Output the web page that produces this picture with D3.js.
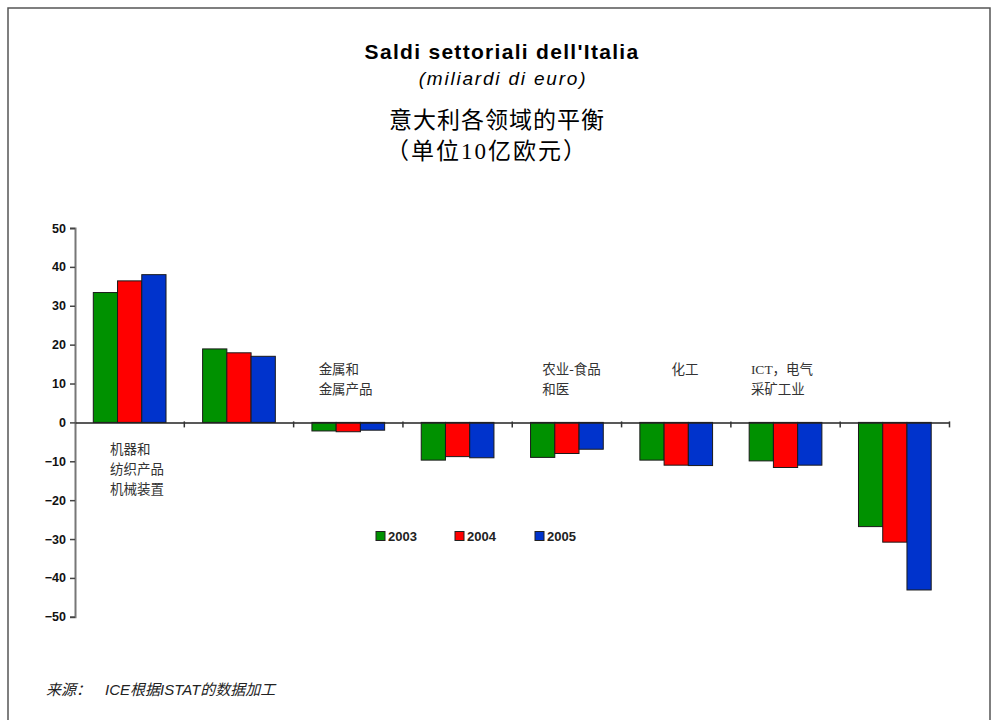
<!DOCTYPE html>
<html>
<head>
<meta charset="utf-8">
<script src="https://cdn.jsdelivr.net/npm/d3@7"></script>
<style>
  body { margin: 0; background: #fff; }
  svg { display: block; }
</style>
</head>
<body>
<div id="chart"></div>
<script>
// dati
const categories = ["cat1", "cat2", "cat3", "cat4", "cat5", "cat6", "cat7", "cat8"];
const categoryLabels = [
    ["机器和", "纺织产品", "机械装置"],
    [],
    ["金属和", "金属产品"],
    [],
    ["农业-食品", "和医"],
    ["化工"],
    ["ICT，电气", "采矿工业"],
    []
];
const years = ["2003", "2004", "2005"];
const values2003 = [33.4, 18.9, -2.2, -9.7, -9.0, -9.7, -9.9, -26.8];
const values2004 = [36.4, 17.9, -2.4, -8.8, -8.0, -11.0, -11.6, -30.8];
const values2005 = [38.0, 17.0, -2.0, -9.1, -6.9, -11.1, -11.0, -43.1];
const yTicks = [50, 40, 30, 20, 10, 0, -10, -20, -30, -40, -50];

const colors = ["#009100", "#ff0000", "#0033cc"];
const series = [values2003, values2004, values2005];

const width = 994, height = 720;
const svg = d3.select("#chart").append("svg")
    .attr("width", width)
    .attr("height", height);

// cornice
svg.append("path")
    .attr("d", "M8,720 V8 H990 V720")
    .attr("fill", "none")
    .attr("stroke", "#555")
    .attr("stroke-width", 1.5);

// titoli
svg.append("text")
    .attr("x", 502).attr("y", 59)
    .attr("text-anchor", "middle")
    .style("font-family", "Liberation Sans, Arial, sans-serif")
    .style("font-weight", "bold")
    .style("font-size", "21px")
    .style("letter-spacing", "1.3px")
    .text("Saldi settoriali dell'Italia");
svg.append("text")
    .attr("x", 503).attr("y", 85)
    .attr("text-anchor", "middle")
    .style("font-family", "Liberation Sans, Arial, sans-serif")
    .style("font-style", "italic")
    .style("font-size", "19px")
    .style("letter-spacing", "1.8px")
    .text("(miliardi di euro)");
svg.append("text")
    .attr("x", 497).attr("y", 128)
    .attr("text-anchor", "middle")
    .style("font-family", "Liberation Serif, Noto Sans CJK SC, serif")
    .style("font-size", "23px")
    .style("letter-spacing", "1px")
    .text("意大利各领域的平衡");
svg.append("text")
    .attr("x", 487).attr("y", 159)
    .attr("text-anchor", "middle")
    .style("font-family", "Liberation Serif, Noto Sans CJK SC, serif")
    .style("font-size", "23px")
    .style("letter-spacing", "2px")
    .text("（单位10亿欧元）");

// scale
const x = d3.scaleBand()
    .domain(categories)
    .range([75, 949.5])
    .paddingInner(0)
    .paddingOuter(0);

const xInner = d3.scaleBand()
    .domain(years)
    .range([18.3, x.bandwidth() - 18.3]);

const y = d3.scaleLinear()
    .domain([-50, 50])
    .range([616.8, 228]);

// barre
series.forEach((vals, i) => {
    svg.append("g").selectAll("rect")
        .data(vals)
        .enter().append("rect")
            .attr("x", (d, j) => x(categories[j]) + xInner(years[i]))
            .attr("y", d => y(Math.max(0, d)))
            .attr("width", xInner.bandwidth())
            .attr("height", d => Math.abs(y(d) - y(0)))
            .attr("fill", colors[i])
            .attr("stroke", "#1a1a1a")
            .attr("stroke-width", 1);
});

// asse y
const yAxis = d3.axisLeft(y).tickValues(yTicks).tickSize(5).tickPadding(4);
const gy = svg.append("g")
    .attr("transform", "translate(75,0)")
    .call(yAxis);
gy.select(".domain").attr("stroke", "#777").attr("stroke-width", 2);
gy.selectAll(".tick line").attr("stroke", "#444").attr("stroke-width", 1.5);
gy.selectAll(".tick text")
    .style("font-family", "Liberation Sans, Arial, sans-serif")
    .style("font-weight", "bold")
    .style("font-size", "12.5px")
    .attr("fill", "#111");

// asse x sullo zero
const xAxis = d3.axisBottom(x).tickValues([]).tickSizeOuter(0);
const gx = svg.append("g")
    .attr("transform", "translate(0," + y(0) + ")")
    .call(xAxis);
gx.select(".domain").attr("stroke", "#222").attr("stroke-width", 1.5);
gx.selectAll(".sep")
    .data(categories.slice(1).concat(["end"]))
    .enter().append("line")
        .attr("x1", (d, i) => x(categories[i]) + x.bandwidth())
        .attr("x2", (d, i) => x(categories[i]) + x.bandwidth())
        .attr("y1", -1)
        .attr("y2", 5)
        .attr("stroke", "#333")
        .attr("stroke-width", 1.5);

// etichette categorie
const labelDx = [35, 0, 25, 0, 30, 50, 20, 0];
const labelTop = [449, 0, 369, 0, 369, 369, 369, 0];
categoryLabels.forEach((lines, i) => {
    lines.forEach((t, k) => {
        svg.append("text")
            .attr("x", x(categories[i]) + labelDx[i])
            .attr("y", labelTop[i] + k * 20 + 5)
            .style("font-family", "Liberation Serif, Noto Sans CJK SC, serif")
            .style("font-size", "13.5px")
            .attr("fill", "#333")
            .text(t);
    });
});

// legenda
const legendX = [376, 455, 535];
years.forEach((yr, i) => {
    svg.append("rect")
        .attr("x", legendX[i]).attr("y", 531.5)
        .attr("width", 9).attr("height", 9)
        .attr("fill", colors[i])
        .attr("stroke", "#222")
        .attr("stroke-width", 1);
    svg.append("text")
        .attr("x", legendX[i] + 12).attr("y", 540.5)
        .style("font-family", "Liberation Sans, Arial, sans-serif")
        .style("font-size", "13px")
        .style("font-weight", "bold")
        .attr("fill", "#222")
        .text(yr);
});

// fonte
const src = svg.append("text")
    .attr("x", 46).attr("y", 695)
    .style("font-style", "italic")
    .style("font-size", "15px")
    .attr("fill", "#222");
src.append("tspan").style("font-family", "Noto Sans CJK SC, serif").text("来源：");
src.append("tspan").attr("dx", 14).style("font-family", "Liberation Sans, Arial, sans-serif").text("ICE");
src.append("tspan").style("font-family", "Noto Sans CJK SC, serif").text("根据");
src.append("tspan").style("font-family", "Liberation Sans, Arial, sans-serif").text("ISTAT");
src.append("tspan").style("font-family", "Noto Sans CJK SC, serif").text("的数据加工");
</script>
</body>
</html>
